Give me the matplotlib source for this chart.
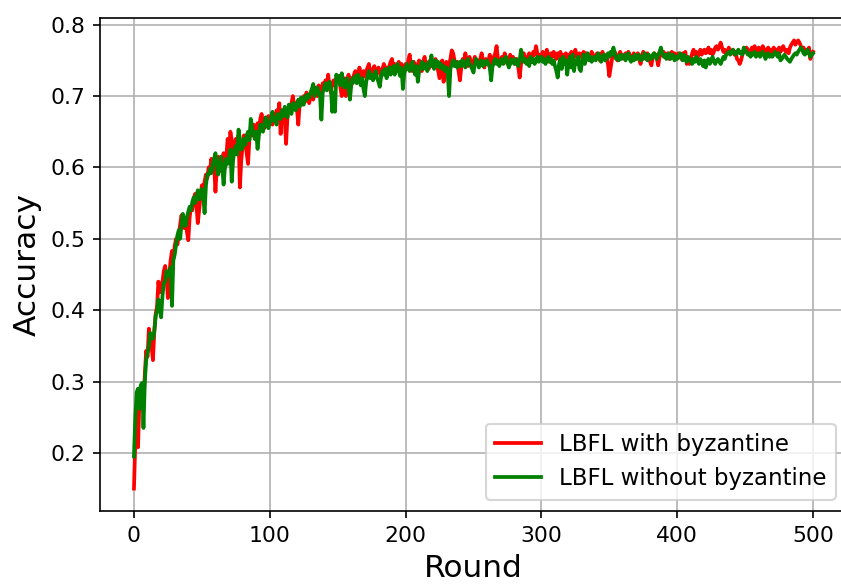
import numpy as np
import matplotlib
matplotlib.use('Agg')
import matplotlib.pyplot as plt

# accuracy per round
acc_byz = [
    0.150, 0.215, 0.262, 0.208, 0.272, 0.290, 0.282, 0.268, 0.310, 0.343,
    0.335, 0.374, 0.360, 0.348, 0.330, 0.372, 0.395, 0.405, 0.440, 0.425,
    0.432, 0.440, 0.455, 0.462, 0.445, 0.417, 0.450, 0.470, 0.483, 0.472,
    0.490, 0.500, 0.492, 0.505, 0.520, 0.533, 0.525, 0.515, 0.528, 0.510,
    0.498, 0.530, 0.545, 0.540, 0.555, 0.563, 0.548, 0.522, 0.540, 0.560,
    0.575, 0.568, 0.580, 0.590, 0.585, 0.600, 0.595, 0.612, 0.598, 0.605,
    0.566, 0.600, 0.615, 0.605, 0.595, 0.610, 0.620, 0.600, 0.615, 0.640,
    0.625, 0.650, 0.638, 0.615, 0.630, 0.640, 0.620, 0.645, 0.572, 0.610,
    0.630, 0.645, 0.635, 0.620, 0.605, 0.640, 0.652, 0.645, 0.660, 0.640,
    0.655, 0.662, 0.650, 0.668, 0.675, 0.660, 0.655, 0.670, 0.662, 0.672,
    0.665, 0.670, 0.660, 0.675, 0.668, 0.680, 0.672, 0.690, 0.647, 0.680,
    0.675, 0.668, 0.633, 0.670, 0.682, 0.678, 0.690, 0.700, 0.685, 0.690,
    0.682, 0.660, 0.690, 0.695, 0.688, 0.700, 0.692, 0.705, 0.698, 0.690,
    0.700, 0.708, 0.695, 0.705, 0.712, 0.700, 0.715, 0.708, 0.702, 0.718,
    0.710, 0.722, 0.715, 0.730, 0.712, 0.705, 0.718, 0.722, 0.715, 0.725,
    0.720, 0.728, 0.712, 0.700, 0.718, 0.725, 0.700, 0.722, 0.730, 0.715,
    0.725, 0.718, 0.730, 0.735, 0.722, 0.728, 0.740, 0.732, 0.720, 0.735,
    0.728, 0.735, 0.740, 0.745, 0.730, 0.725, 0.738, 0.742, 0.730, 0.735,
    0.740, 0.732, 0.728, 0.738, 0.745, 0.735, 0.740, 0.730, 0.742, 0.748,
    0.752, 0.738, 0.745, 0.735, 0.742, 0.748, 0.738, 0.745, 0.735, 0.740,
    0.745, 0.738, 0.750, 0.758, 0.742, 0.735, 0.748, 0.740, 0.730, 0.745,
    0.750, 0.742, 0.735, 0.748, 0.755, 0.740, 0.745, 0.738, 0.750, 0.742,
    0.748, 0.740, 0.752, 0.745, 0.735, 0.725, 0.745, 0.750, 0.720, 0.742,
    0.748, 0.740, 0.745, 0.752, 0.764, 0.760, 0.750, 0.742, 0.748, 0.735,
    0.722, 0.740, 0.752, 0.745, 0.760, 0.748, 0.742, 0.755, 0.748, 0.740,
    0.748, 0.755, 0.745, 0.750, 0.742, 0.752, 0.760, 0.748, 0.740, 0.752,
    0.745, 0.750, 0.758, 0.748, 0.742, 0.755, 0.760, 0.770, 0.752, 0.745,
    0.750, 0.755, 0.748, 0.760, 0.752, 0.745, 0.750, 0.758, 0.748, 0.755,
    0.750, 0.745, 0.752, 0.740, 0.726, 0.745, 0.755, 0.760, 0.752, 0.748,
    0.755, 0.760, 0.752, 0.748, 0.762, 0.758, 0.770, 0.760, 0.752, 0.758,
    0.755, 0.762, 0.750, 0.758, 0.765, 0.752, 0.748, 0.760, 0.755, 0.762,
    0.758, 0.752, 0.760, 0.755, 0.762, 0.750, 0.758, 0.755, 0.760, 0.752,
    0.758, 0.755, 0.762, 0.750, 0.758, 0.765, 0.755, 0.752, 0.760, 0.755,
    0.758, 0.762, 0.755, 0.760, 0.752, 0.758, 0.755, 0.762, 0.758, 0.755,
    0.752, 0.760, 0.755, 0.750, 0.758, 0.762, 0.755, 0.750, 0.758, 0.745,
    0.728, 0.740, 0.752, 0.758, 0.762, 0.755, 0.750, 0.758, 0.762, 0.755,
    0.758, 0.752, 0.760, 0.755, 0.762, 0.758, 0.750, 0.755, 0.760, 0.752,
    0.755, 0.760, 0.752, 0.745, 0.755, 0.762, 0.758, 0.752, 0.760, 0.755,
    0.748, 0.743, 0.755, 0.760, 0.758, 0.752, 0.743, 0.755, 0.760, 0.758,
    0.762, 0.755, 0.758, 0.760, 0.752, 0.758, 0.762, 0.755, 0.760, 0.758,
    0.755, 0.760, 0.758, 0.752, 0.760, 0.755, 0.762, 0.745, 0.750, 0.745,
    0.752, 0.760, 0.765, 0.758, 0.762, 0.755, 0.760, 0.765, 0.758, 0.762,
    0.765, 0.760, 0.762, 0.768, 0.760, 0.765, 0.758, 0.762, 0.768, 0.770,
    0.765, 0.770, 0.775, 0.768, 0.762, 0.765, 0.758, 0.762, 0.768, 0.760,
    0.762, 0.765, 0.758, 0.762, 0.752, 0.750, 0.745, 0.750, 0.758, 0.765,
    0.762, 0.768, 0.765, 0.760, 0.762, 0.768, 0.765, 0.770, 0.762, 0.765,
    0.768, 0.762, 0.765, 0.770, 0.765, 0.760, 0.765, 0.768, 0.762, 0.765,
    0.762, 0.768, 0.765, 0.760, 0.765, 0.768, 0.762, 0.765, 0.770, 0.765,
    0.762, 0.765, 0.760, 0.768, 0.772, 0.775, 0.778, 0.772, 0.775, 0.778,
    0.775, 0.770, 0.765, 0.768, 0.762, 0.765, 0.760, 0.768, 0.752, 0.758,
    0.762,
]

acc_clean = [
    0.195, 0.250, 0.285, 0.290, 0.262, 0.295, 0.298, 0.235, 0.300, 0.330,
    0.340, 0.350, 0.368, 0.362, 0.360, 0.370, 0.392, 0.398, 0.415, 0.405,
    0.390, 0.420, 0.438, 0.440, 0.455, 0.450, 0.448, 0.460, 0.406, 0.470,
    0.478, 0.492, 0.505, 0.512, 0.500, 0.520, 0.535, 0.525, 0.518, 0.530,
    0.538, 0.545, 0.540, 0.552, 0.558, 0.550, 0.560, 0.568, 0.555, 0.565,
    0.570, 0.560, 0.536, 0.575, 0.590, 0.590, 0.598, 0.592, 0.605, 0.612,
    0.620, 0.598, 0.590, 0.605, 0.615, 0.600, 0.576, 0.600, 0.612, 0.605,
    0.615, 0.625, 0.580, 0.610, 0.625, 0.630, 0.618, 0.653, 0.640, 0.625,
    0.628, 0.640, 0.632, 0.645, 0.650, 0.638, 0.668, 0.655, 0.648, 0.640,
    0.650, 0.626, 0.645, 0.660, 0.655, 0.650, 0.662, 0.670, 0.660, 0.655,
    0.662, 0.670, 0.678, 0.665, 0.670, 0.660, 0.675, 0.672, 0.668, 0.680,
    0.672, 0.685, 0.678, 0.670, 0.688, 0.680, 0.675, 0.690, 0.685, 0.680,
    0.690, 0.695, 0.685, 0.698, 0.692, 0.688, 0.700, 0.695, 0.702, 0.698,
    0.705, 0.710, 0.717, 0.700, 0.708, 0.712, 0.705, 0.700, 0.667, 0.705,
    0.712, 0.718, 0.708, 0.715, 0.720, 0.712, 0.678, 0.705, 0.678, 0.730,
    0.722, 0.728, 0.715, 0.732, 0.720, 0.712, 0.718, 0.725, 0.710, 0.695,
    0.715, 0.725, 0.720, 0.728, 0.718, 0.730, 0.722, 0.715, 0.725, 0.710,
    0.700, 0.720, 0.728, 0.735, 0.725, 0.730, 0.722, 0.728, 0.735, 0.725,
    0.720, 0.713, 0.728, 0.735, 0.730, 0.738, 0.725, 0.732, 0.740, 0.730,
    0.735, 0.742, 0.730, 0.738, 0.745, 0.735, 0.728, 0.740, 0.710, 0.732,
    0.738, 0.745, 0.740, 0.735, 0.742, 0.748, 0.738, 0.730, 0.742, 0.720,
    0.735, 0.742, 0.748, 0.738, 0.745, 0.740, 0.735, 0.748, 0.742, 0.757,
    0.745, 0.738, 0.750, 0.742, 0.748, 0.740, 0.745, 0.738, 0.742, 0.735,
    0.740, 0.732, 0.700, 0.738, 0.745, 0.750, 0.742, 0.748, 0.740, 0.745,
    0.748, 0.742, 0.750, 0.745, 0.740, 0.748, 0.752, 0.745, 0.742, 0.738,
    0.733, 0.745, 0.752, 0.748, 0.740, 0.745, 0.750, 0.742, 0.748, 0.745,
    0.750, 0.745, 0.740, 0.722, 0.742, 0.748, 0.752, 0.745, 0.750, 0.742,
    0.748, 0.752, 0.745, 0.750, 0.755, 0.748, 0.740, 0.745, 0.752, 0.748,
    0.745, 0.752, 0.748, 0.742, 0.750, 0.765, 0.755, 0.748, 0.752, 0.745,
    0.750, 0.742, 0.755, 0.748, 0.752, 0.745, 0.750, 0.755, 0.748, 0.752,
    0.755, 0.748, 0.752, 0.745, 0.750, 0.755, 0.748, 0.752, 0.745, 0.750,
    0.742, 0.735, 0.726, 0.745, 0.752, 0.738, 0.755, 0.745, 0.750, 0.730,
    0.748, 0.755, 0.740, 0.758, 0.735, 0.750, 0.745, 0.755, 0.738, 0.735,
    0.750, 0.758, 0.745, 0.755, 0.760, 0.750, 0.755, 0.748, 0.752, 0.755,
    0.750, 0.755, 0.760, 0.752, 0.748, 0.755, 0.758, 0.750, 0.755, 0.760,
    0.755, 0.762, 0.758, 0.768, 0.760, 0.752, 0.755, 0.750, 0.758, 0.752,
    0.755, 0.758, 0.750, 0.755, 0.760, 0.752, 0.748, 0.755, 0.750, 0.758,
    0.752, 0.755, 0.758, 0.750, 0.755, 0.752, 0.760, 0.755, 0.750, 0.758,
    0.755, 0.752, 0.758, 0.760, 0.755, 0.752, 0.758, 0.762, 0.768, 0.760,
    0.755, 0.758, 0.752, 0.755, 0.760, 0.752, 0.755, 0.758, 0.750, 0.755,
    0.752, 0.755, 0.760, 0.755, 0.750, 0.758, 0.752, 0.748, 0.755, 0.752,
    0.750, 0.745, 0.752, 0.748, 0.755, 0.750, 0.745, 0.752, 0.748, 0.742,
    0.750, 0.740, 0.748, 0.752, 0.745, 0.750, 0.755, 0.748, 0.745, 0.750,
    0.752, 0.748, 0.745, 0.750, 0.755, 0.752, 0.758, 0.760, 0.762, 0.758,
    0.762, 0.765, 0.760, 0.758, 0.762, 0.765, 0.760, 0.762, 0.758, 0.768,
    0.765, 0.762, 0.758, 0.760, 0.755, 0.760, 0.758, 0.762, 0.755, 0.758,
    0.760, 0.755, 0.758, 0.762, 0.758, 0.752, 0.758, 0.760, 0.755, 0.758,
    0.755, 0.758, 0.762, 0.758, 0.755, 0.760, 0.750, 0.752, 0.755, 0.758,
    0.755, 0.752, 0.750, 0.748, 0.752, 0.755, 0.758, 0.760, 0.758, 0.762,
    0.765, 0.768, 0.765, 0.760, 0.758, 0.762, 0.765, 0.760, 0.755, 0.758,
    0.760,
]

rounds = np.arange(len(acc_byz))

W, H = 841, 584
fig = plt.figure(figsize=(W / 150, H / 150), dpi=150)
# axes box in pixels (right edge runs past the picture, as in the reference)
ax = fig.add_axes([100 / W, (H - 511) / H, (847 - 100) / W, (511 - 18) / H])

ax.plot(rounds, acc_byz, color='red', linewidth=1.8, label='LBFL with byzantine')
ax.plot(rounds, acc_clean, color='green', linewidth=1.8, label='LBFL without byzantine')

ax.set_xlabel('Round', fontsize=15)
ax.set_ylabel('Accuracy', fontsize=15)
ax.tick_params(labelsize=10.5)
ax.grid(True)
ax.legend(loc='lower right', fontsize=11)

fig.savefig('out.png', dpi=150)
